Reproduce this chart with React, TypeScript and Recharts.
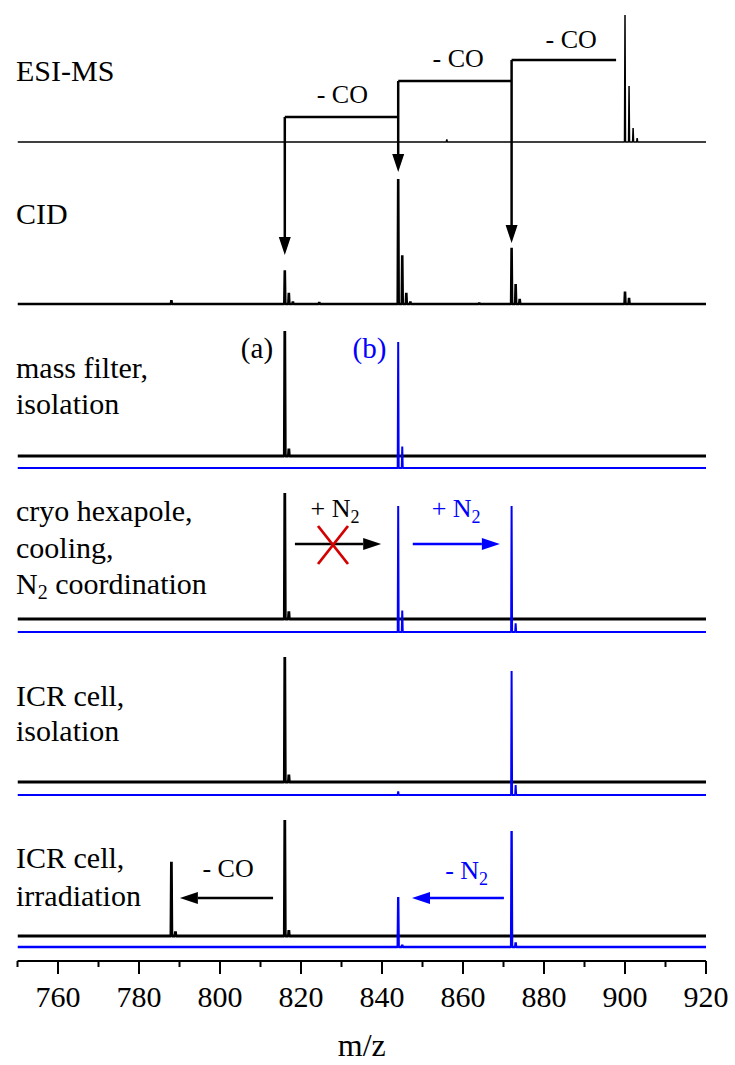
import { ComposedChart, Line, XAxis, YAxis, ReferenceLine, ReferenceDot } from 'recharts'

const FONT = "'Liberation Serif', 'Times New Roman', serif"
const BLUE = '#0000ff'
const RED = '#d40000'

type Peak = [number, number]

// peak lists: [m/z, relative intensity %]
const esiPeaks: Peak[] = [[856, 2], [900, 100], [901, 44], [902, 11], [903, 3]]
const cidPeaks: Peak[] = [
  [788, 3], [816, 27], [817, 9], [818, 2], [824.5, 1.5], [844, 100], [845, 39], [846, 9], [847, 2],
  [864, 1], [872, 45], [873, 16], [874, 4], [900, 10], [901, 5],
]
const massFilterA: Peak[] = [[816, 100], [817, 6]]
const massFilterB: Peak[] = [[844, 100], [845, 17]]
const cryoA: Peak[] = [[816, 100], [817, 6]]
const cryoB: Peak[] = [[844, 100], [845, 17], [872, 100], [873, 7]]
const icrIsoA: Peak[] = [[816, 100], [817, 6]]
const icrIsoB: Peak[] = [[844, 3], [872, 100], [873, 8]]
const icrIrrA: Peak[] = [[788, 64], [789, 4], [816, 100], [817, 5]]
const icrIrrB: Peak[] = [[844, 43], [845, 2], [872, 100], [873, 4]]

const XTICKS = [750, 760, 770, 780, 790, 800, 810, 820, 830, 840, 850, 860, 870, 880, 890, 900, 910, 920]

// vertical stacking: base = baseline height in plot units, gain = height of a 100 % peak
const traces = [
  { peaks: esiPeaks, base: 819, gain: 127, color: '#000', width: 1.5 },
  { peaks: cidPeaks, base: 657, gain: 125, color: '#000', width: 2.6 },
  { peaks: massFilterA, base: 505, gain: 125, color: '#000', width: 2.8 },
  { peaks: cryoA, base: 342, gain: 126, color: '#000', width: 2.8 },
  { peaks: icrIsoA, base: 179, gain: 125, color: '#000', width: 2.8 },
  { peaks: icrIrrA, base: 25, gain: 116, color: '#000', width: 2.8 },
  { peaks: massFilterB, base: 493, gain: 126, color: BLUE, width: 2 },
  { peaks: cryoB, base: 329, gain: 126, color: BLUE, width: 2 },
  { peaks: icrIsoB, base: 166, gain: 124, color: BLUE, width: 2 },
  { peaks: icrIrrB, base: 14, gain: 116, color: BLUE, width: 2.4 },
]

function sticks(peaks: Peak[], base: number, gain: number) {
  const pts = [{ mz: 750, y: base }]
  for (const [mz, h] of peaks) {
    pts.push({ mz: mz - 0.12, y: base }, { mz, y: base + (h * gain) / 100 }, { mz: mz + 0.12, y: base })
  }
  pts.push({ mz: 920, y: base })
  return pts
}

// line segment, optionally ending in a filled arrow head
const arrow = (color: string, head = true, w = 2.5) => (p: any) => {
  const { x1, y1, x2, y2 } = p
  const len = Math.hypot(x2 - x1, y2 - y1) || 1
  const ux = (x2 - x1) / len
  const uy = (y2 - y1) / len
  const hl = head ? 18 : 0
  const hw = 6
  const bx = x2 - ux * hl
  const by = y2 - uy * hl
  return (
    <g>
      <line x1={x1} y1={y1} x2={head ? bx : x2} y2={head ? by : y2} stroke={color} strokeWidth={w} />
      {head && (
        <polygon
          points={`${x2},${y2} ${bx - uy * hw},${by + ux * hw} ${bx + uy * hw},${by - ux * hw}`}
          fill={color}
        />
      )}
    </g>
  )
}

const note = (content: any, color = '#000', size = 26, anchor: 'start' | 'middle' | 'end' = 'middle') => (p: any) => (
  <text
    x={p.cx}
    y={p.cy}
    fill={color}
    fontSize={size}
    fontFamily={FONT}
    textAnchor={anchor}
    dominantBaseline="central"
  >
    {content}
  </text>
)

const N2 = (prefix: string) => (
  <>
    {prefix}N<tspan dy={9} fontSize={18}>2</tspan>
  </>
)

const AxisTick = (props: any) => {
  const { x, y, payload } = props
  const major = payload.value % 20 === 0
  return (
    <g>
      <line x1={x} x2={x} y1={y} y2={y + (major ? 13 : 6)} stroke="#000" strokeWidth={2} />
      {major && (
        <text x={x} y={y + 46} textAnchor="middle" fontSize={30} fontFamily={FONT} fill="#000">
          {payload.value}
        </text>
      )}
    </g>
  )
}

const seg = (x1: number, y1: number, x2: number, y2: number) => [{ x: x1, y: y1 }, { x: x2, y: y2 }]

const panelLabels: { y: number; text: any }[] = [
  { y: 70, text: 'ESI-MS' },
  { y: 213, text: 'CID' },
  { y: 367, text: 'mass filter,' },
  { y: 403, text: 'isolation' },
  { y: 510, text: 'cryo hexapole,' },
  { y: 547, text: 'cooling,' },
  { y: 583, text: (<>N<tspan dy={9} fontSize={20}>2</tspan><tspan dy={-9}> coordination</tspan></>) },
  { y: 695, text: 'ICR cell,' },
  { y: 730, text: 'isolation' },
  { y: 857, text: 'ICR cell,' },
  { y: 895, text: 'irradiation' },
]

export default function App() {
  return (
    <div style={{ position: 'absolute', left: 0, top: 0, width: 735, height: 1065, background: '#fff' }}>
      <ComposedChart width={735} height={1065} margin={{ top: 0, right: 29, bottom: 0, left: 17.5 }}>
        <XAxis
          dataKey="mz"
          type="number"
          domain={[750, 920]}
          ticks={XTICKS}
          interval={0}
          allowDataOverflow
          height={104}
          tickSize={0}
          tickMargin={0}
          tickLine={false}
          axisLine={{ stroke: '#000', strokeWidth: 2 }}
          tick={<AxisTick />}
          label={{ value: 'm/z', position: 'insideBottom', offset: 9, fontSize: 32, fontFamily: FONT, fill: '#000' }}
        />
        <YAxis hide type="number" domain={[0, 961]} allowDataOverflow />

        {traces.map((t, i) => (
          <Line
            key={i}
            data={sticks(t.peaks, t.base, t.gain)}
            dataKey="y"
            type="linear"
            dot={false}
            activeDot={false}
            stroke={t.color}
            strokeWidth={t.width}
            strokeLinejoin="bevel"
            isAnimationActive={false}
          />
        ))}

        {/* CO-loss cascade between ESI-MS and CID */}
        <ReferenceLine segment={seg(816, 844, 844, 844)} shape={arrow('#000', false)} />
        <ReferenceLine segment={seg(816, 844, 816, 706)} shape={arrow('#000')} />
        <ReferenceLine segment={seg(844, 880, 872, 880)} shape={arrow('#000', false)} />
        <ReferenceLine segment={seg(844, 880, 844, 789)} shape={arrow('#000')} />
        <ReferenceLine segment={seg(872, 901, 897.8, 901)} shape={arrow('#000', false)} />
        <ReferenceLine segment={seg(872, 901, 872, 718)} shape={arrow('#000')} />
        <ReferenceDot x={830.2} y={867} r={1} shape={note('- CO')} />
        <ReferenceDot x={858.8} y={903} r={1} shape={note('- CO')} />
        <ReferenceDot x={886.7} y={922} r={1} shape={note('- CO')} />

        {/* mass filter */}
        <ReferenceDot x={813.1} y={613} r={1} shape={note('(a)', '#000', 29, 'end')} />
        <ReferenceDot x={836.9} y={613} r={1} shape={note('(b)', BLUE, 29)} />

        {/* cryo hexapole */}
        <ReferenceDot x={828.4} y={453} r={1} shape={note(N2('+ '))} />
        <ReferenceLine segment={seg(818.5, 417, 839.8, 417)} shape={arrow('#000')} />
        <ReferenceLine segment={seg(824.2, 435, 831.6, 397)} shape={arrow(RED, false, 2.8)} />
        <ReferenceLine segment={seg(831.6, 435, 824.2, 397)} shape={arrow(RED, false, 2.8)} />
        <ReferenceDot x={858.3} y={453} r={1} shape={note(N2('+ '), BLUE)} />
        <ReferenceLine segment={seg(847.6, 417, 869.1, 417)} shape={arrow(BLUE)} />

        {/* ICR irradiation */}
        <ReferenceDot x={802} y={93} r={1} shape={note('- CO')} />
        <ReferenceLine segment={seg(813.1, 63, 790.1, 63)} shape={arrow('#000')} />
        <ReferenceDot x={860.9} y={91} r={1} shape={note(N2('- '), BLUE)} />
        <ReferenceLine segment={seg(870.1, 63, 847.4, 63)} shape={arrow(BLUE)} />
      </ComposedChart>

      <svg width={735} height={1065} style={{ position: 'absolute', left: 0, top: 0, pointerEvents: 'none' }}>
        {panelLabels.map((l, i) => (
          <text key={i} x={16} y={l.y} fontSize={30} fontFamily={FONT} fill="#000" dominantBaseline="central">
            {l.text}
          </text>
        ))}
      </svg>
    </div>
  )
}
